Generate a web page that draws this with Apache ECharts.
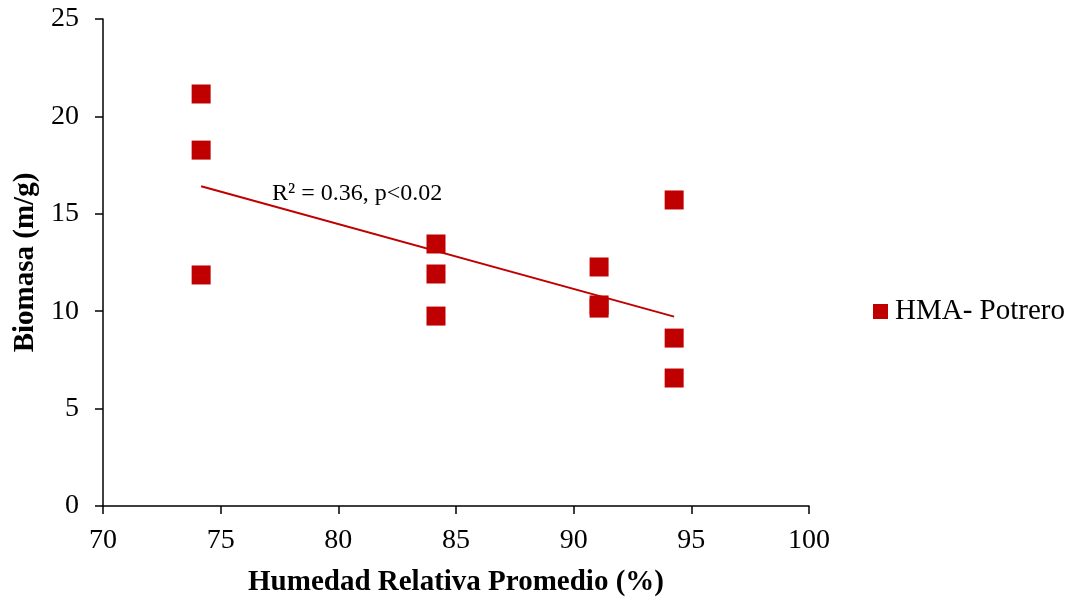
<!DOCTYPE html>
<html><head><meta charset="utf-8">
<script src="https://cdn.jsdelivr.net/npm/echarts@6/dist/echarts.min.js"></script>
<style>html,body{margin:0;padding:0;background:#fff}#c{width:1073px;height:603px}</style>
</head><body><div id="c"></div>
<script>
const humedad = [74.17, 74.17, 74.17, 84.15, 84.15, 84.15, 91.08, 91.08, 91.08, 94.27, 94.27, 94.27];
const biomasa = [21.15, 18.27, 11.86, 13.45, 11.91, 9.75, 12.27, 10.32, 10.16, 15.71, 8.62, 6.57];
const seriesName = 'HMA- Potrero';
const annotation = 'R² = 0.36, p<0.02';
const annotationAt = [80.8, 16.05];
const xTicks = [70, 100, 5];
const yTicks = [0, 25, 5];

// least-squares trend line from the data
const n = humedad.length;
const mx = humedad.reduce((a,b)=>a+b,0)/n;
const my = biomasa.reduce((a,b)=>a+b,0)/n;
let sxy=0, sxx=0;
for (let i=0;i<n;i++){sxy+=(humedad[i]-mx)*(biomasa[i]-my);sxx+=(humedad[i]-mx)**2;}
const slope = sxy/sxx, icpt = my - slope*mx;
const xmin = Math.min(...humedad), xmax = Math.max(...humedad);
const trend = [[xmin, icpt+slope*xmin],[xmax, icpt+slope*xmax]];

const font = '"Liberation Serif","Times New Roman",serif';
const chart = echarts.init(document.getElementById('c'), null, {renderer:'canvas'});
chart.setOption({
  animation:false,
  grid:{left:103, right:264, top:19, bottom:97},
  legend:{
    data:[{name:seriesName, icon:'rect'}],
    orient:'vertical', left:868, top:292,
    itemWidth:15, itemHeight:15, itemGap:4,
    textStyle:{fontFamily:font, fontSize:29, color:'#000', padding:[0,0,0,2]}
  },
  xAxis:{
    type:'value', min:xTicks[0], max:xTicks[1], interval:xTicks[2],
    name:'Humedad Relativa Promedio (%)', nameLocation:'middle', nameGap:62,
    nameTextStyle:{fontFamily:font, fontSize:29, fontWeight:'bold', color:'#000'},
    axisLine:{show:true, onZero:false, lineStyle:{color:'#000', width:1.5}},
    axisTick:{show:true, inside:false, length:8, lineStyle:{color:'#000', width:1.5}},
    axisLabel:{fontFamily:font, fontSize:28, color:'#000', margin:21},
    splitLine:{show:false}
  },
  yAxis:{
    type:'value', min:yTicks[0], max:yTicks[1], interval:yTicks[2],
    name:'Biomasa (m/g)', nameLocation:'middle', nameGap:58, nameRotate:90,
    nameTextStyle:{fontFamily:font, fontSize:29, fontWeight:'bold', color:'#000'},
    axisLine:{show:true, onZero:false, lineStyle:{color:'#000', width:1.5}},
    axisTick:{show:true, inside:false, length:8, lineStyle:{color:'#000', width:1.5}},
    axisLabel:{fontFamily:font, fontSize:28, color:'#000', margin:24},
    splitLine:{show:false}
  },
  series:[
    {
      name:seriesName, type:'scatter', symbol:'rect', symbolSize:19,
      itemStyle:{color:'#C00000', opacity:1},
      data: humedad.map((x,i)=>[x, biomasa[i]]), z:3
    },
    {
      name:'trend', type:'line', data:trend, symbol:'none',
      lineStyle:{color:'#C00000', width:2}, z:2,
      markPoint:{
        symbol:'circle', symbolSize:0,
        data:[{coord:annotationAt}],
        label:{show:true, formatter:annotation, position:'inside',
          fontFamily:font, fontSize:24, color:'#000'}
      }
    }
  ]
});
</script></body></html>
